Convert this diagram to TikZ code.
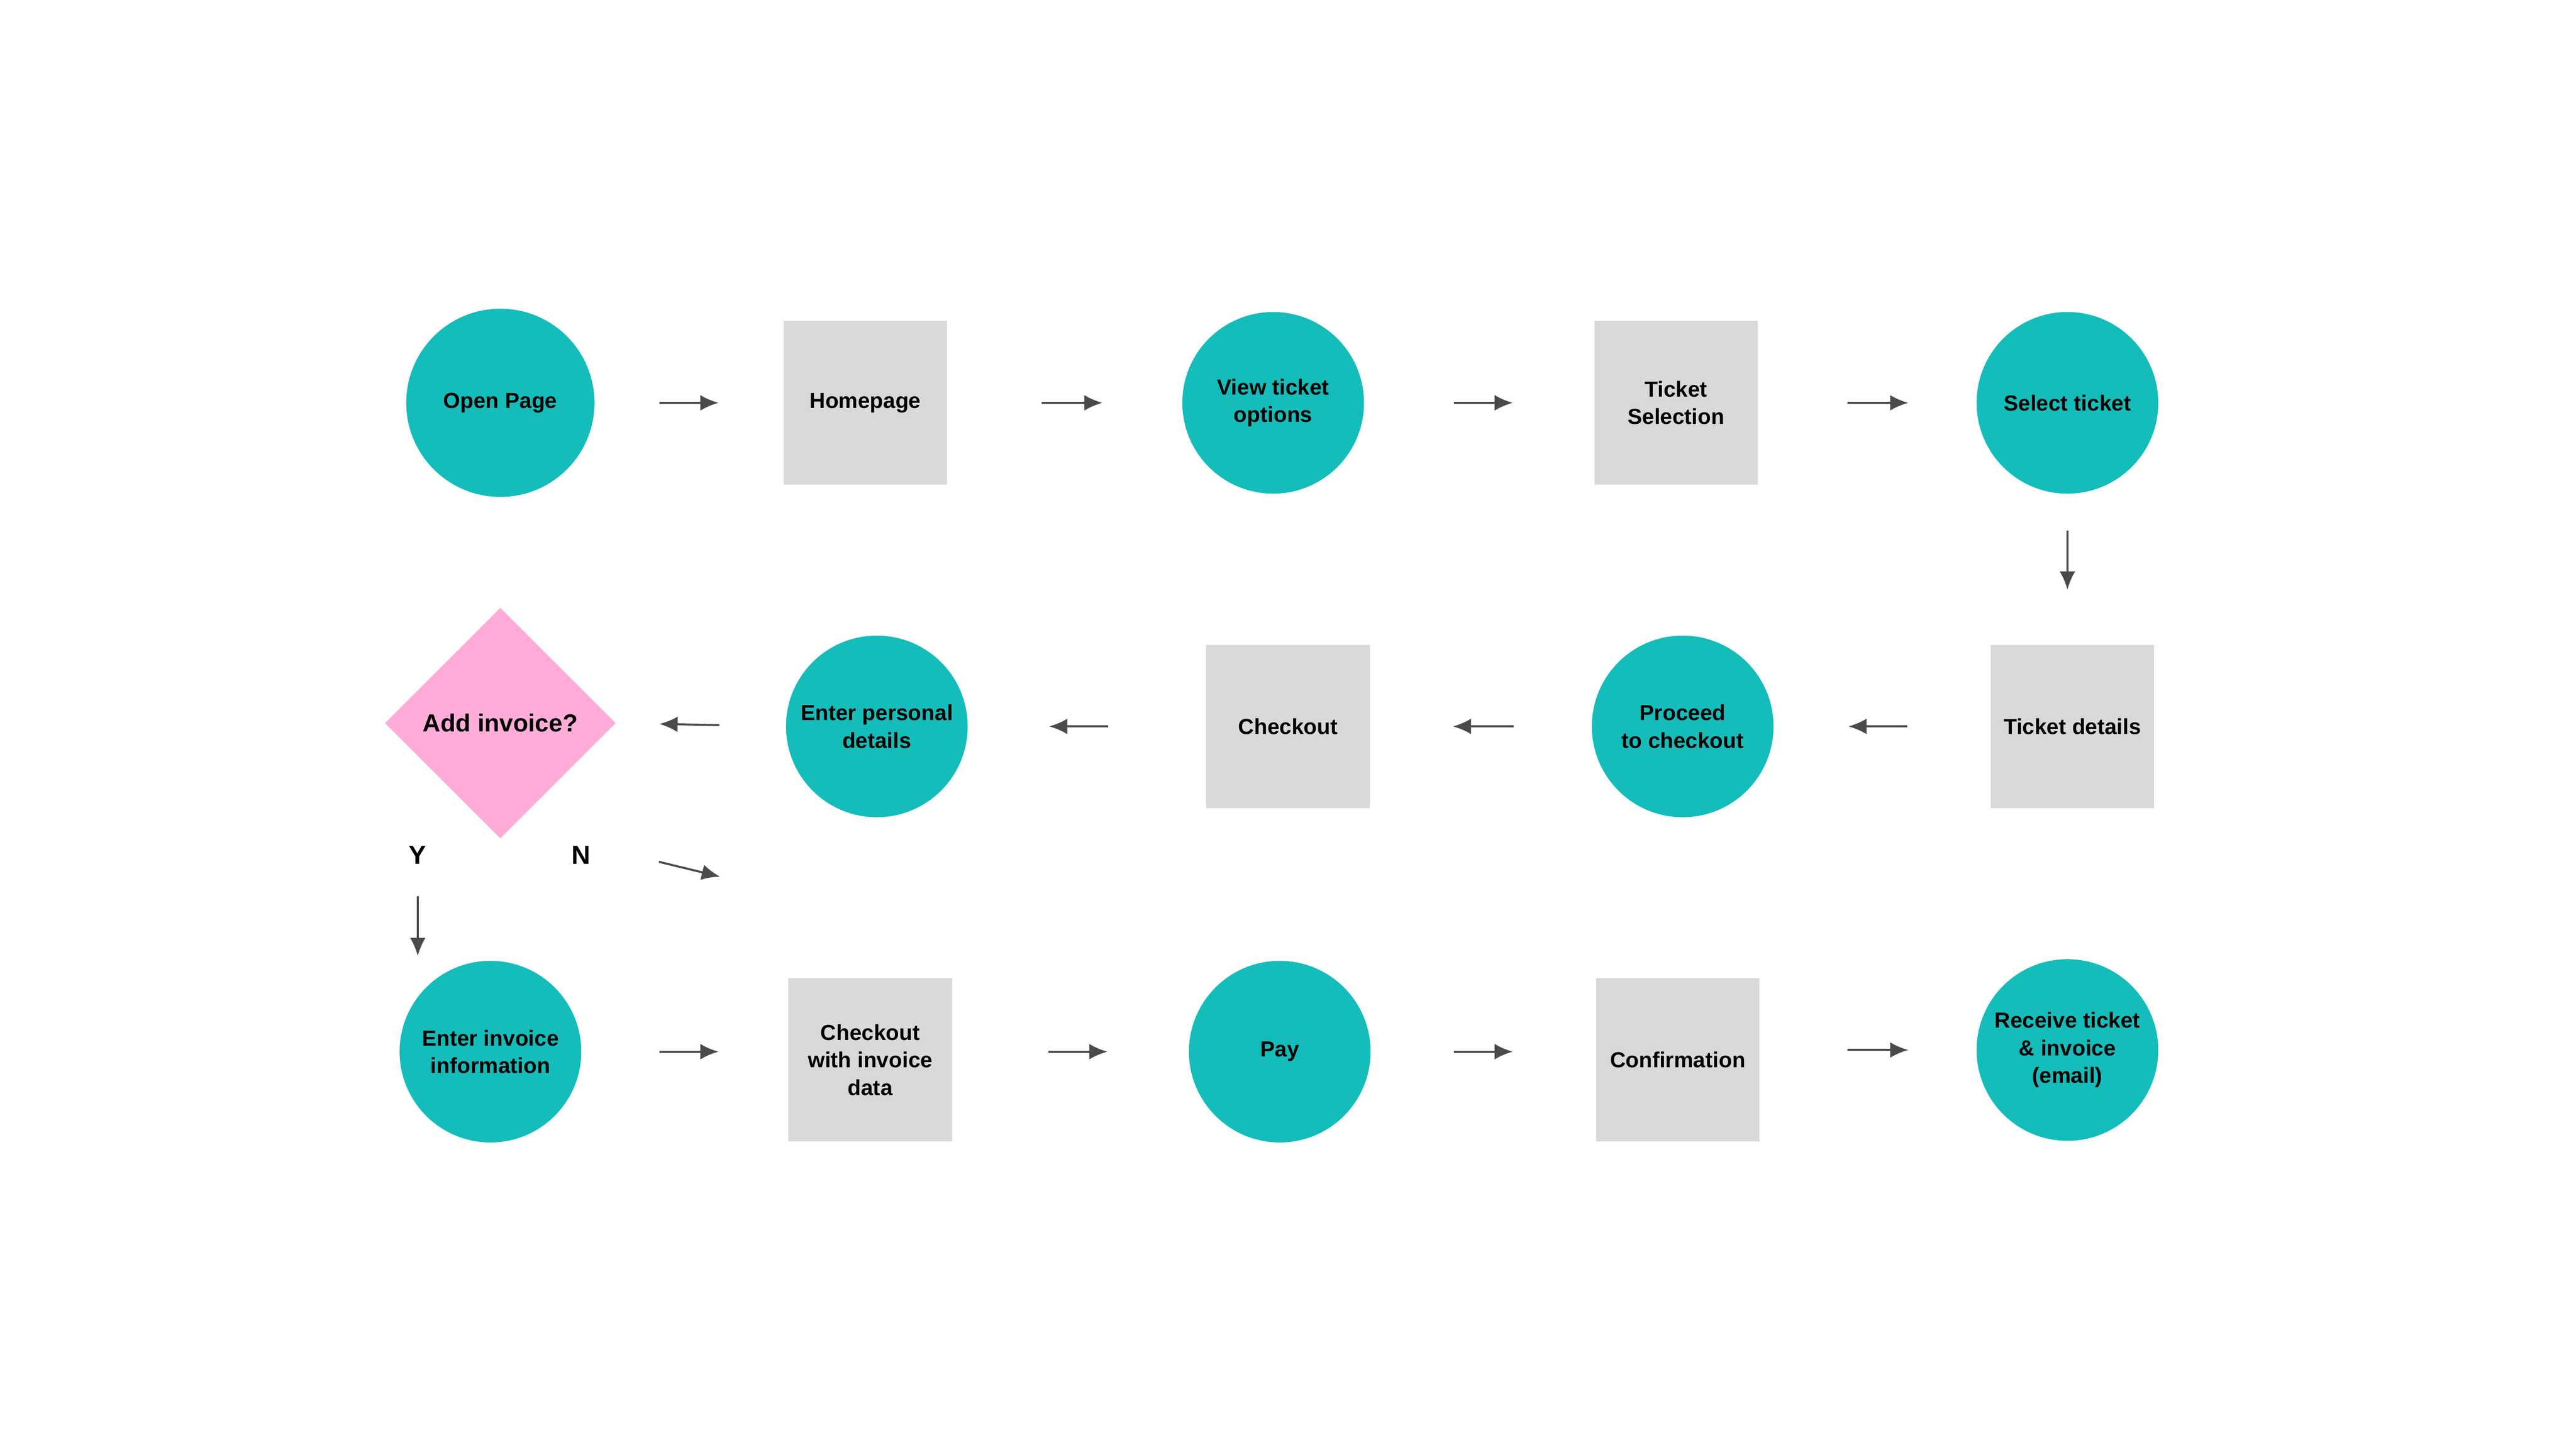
\documentclass[tikz,border=0pt]{standalone}
\usepackage{fontspec}
\setmainfont{Liberation Sans}
\usetikzlibrary{shapes.geometric,arrows.meta}
\definecolor{tealc}{HTML}{14BDBA}
\definecolor{boxc}{HTML}{DAD8D9}
\definecolor{pinkc}{HTML}{FFADD8}
\definecolor{arrc}{HTML}{4A4A4A}
\tikzset{
  base/.style={font=\fontsize{7.5}{9.5}\selectfont\bfseries, align=center, inner sep=0pt},
  stage/.style={base, circle, fill=tealc, minimum size=2.2cm},
  page/.style={base, rectangle, fill=boxc, minimum size=1.98cm},
  choice/.style={base, diamond, fill=pinkc, minimum width=2.8cm, minimum height=2.8cm, font=\fontsize{8.5}{10}\selectfont\bfseries},
  arr/.style={-{Latex[length=2.2mm,width=1.9mm]}, arrc, line width=0.7pt},
  yn/.style={font=\fontsize{9}{10}\selectfont\bfseries}
}
\begin{document}
\begin{tikzpicture}
    \useasboundingbox (0,0) rectangle (31.2,-17.56);

    % first row
    \node[stage, minimum size=2.28cm] (open) at (6.06,-4.88) {Open Page};
    \node[page] (home) at (10.48,-4.88) {Homepage};
    \node[stage] (view) at (15.42,-4.88) {View ticket\\options};
    \node[page] (tsel) at (20.30,-4.88) {Ticket\\Selection};
    \node[stage] (sel) at (25.04,-4.88) {Select ticket};

    % second row
    \node[page] (tdet) at (25.10,-8.80) {Ticket details};
    \node[stage] (proc) at (20.38,-8.80) {Proceed\\to checkout};
    \node[page] (chk) at (15.60,-8.80) {Checkout};
    \node[stage] (pers) at (10.62,-8.80) {Enter personal\\details};
    \node[choice] (inv) at (6.06,-8.76) {Add invoice?};

    % third row
    \node[stage] (einv) at (5.94,-12.74) {Enter invoice\\information};
    \node[page] (ckinv) at (10.54,-12.84) {Checkout\\with invoice\\data};
    \node[stage] (pay) at (15.50,-12.74) {Pay};
    \node[page] (conf) at (20.32,-12.84) {Confirmation};
    \node[stage] (recv) at (25.04,-12.72) {Receive ticket\\\& invoice\\(email)};

    % choice labels
    \node[yn] (yes) at (5.06,-10.36) {Y};
    \node[yn] (no) at (7.04,-10.36) {N};
    \coordinate (ytop) at (5.06,-10.86);
    \coordinate (ybot) at (5.06,-11.58);
    \coordinate (ntop) at (7.98,-10.44);
    \coordinate (nbot) at (8.72,-10.62);

    % connectors
    \draw[arr, shorten <=0.78cm, shorten >=0.78cm] (open.east) -- (home.west);
    \draw[arr, shorten <=1.14cm, shorten >=0.96cm] (home.east) -- (view.west);
    \draw[arr, shorten <=1.08cm, shorten >=0.98cm] (view.east) -- (tsel.west);
    \draw[arr, shorten <=1.08cm, shorten >=0.82cm] (tsel.east) -- (sel.west);
    \draw[arr, shorten <=0.44cm, shorten >=0.66cm] (sel.south) -- (sel.south |- tdet.north);
    \draw[arr, shorten <=1.00cm, shorten >=0.90cm] (tdet.west) -- (proc.east);
    \draw[arr, shorten <=0.94cm, shorten >=1.00cm] (proc.west) -- (chk.east);
    \draw[arr, shorten <=1.18cm, shorten >=0.98cm] (chk.west) -- (pers.east);
    \draw[arr, shorten <=0.80cm, shorten >=0.52cm] (pers.west) -- (inv.east);
    \draw[arr] (ytop) -- (ybot);
    \draw[arr] (ntop) -- (nbot);
    \draw[arr, shorten <=0.94cm, shorten >=0.84cm] (einv.east) -- (einv.east -| ckinv.west);
    \draw[arr, shorten <=1.16cm, shorten >=0.98cm] (ckinv.east |- pay.east) -- (pay.west);
    \draw[arr, shorten <=1.00cm, shorten >=1.00cm] (pay.east) -- (pay.east -| conf.west);
    \draw[arr, shorten <=1.06cm, shorten >=0.82cm] (conf.east |- recv.east) -- (recv.west);
\end{tikzpicture}
\end{document}
